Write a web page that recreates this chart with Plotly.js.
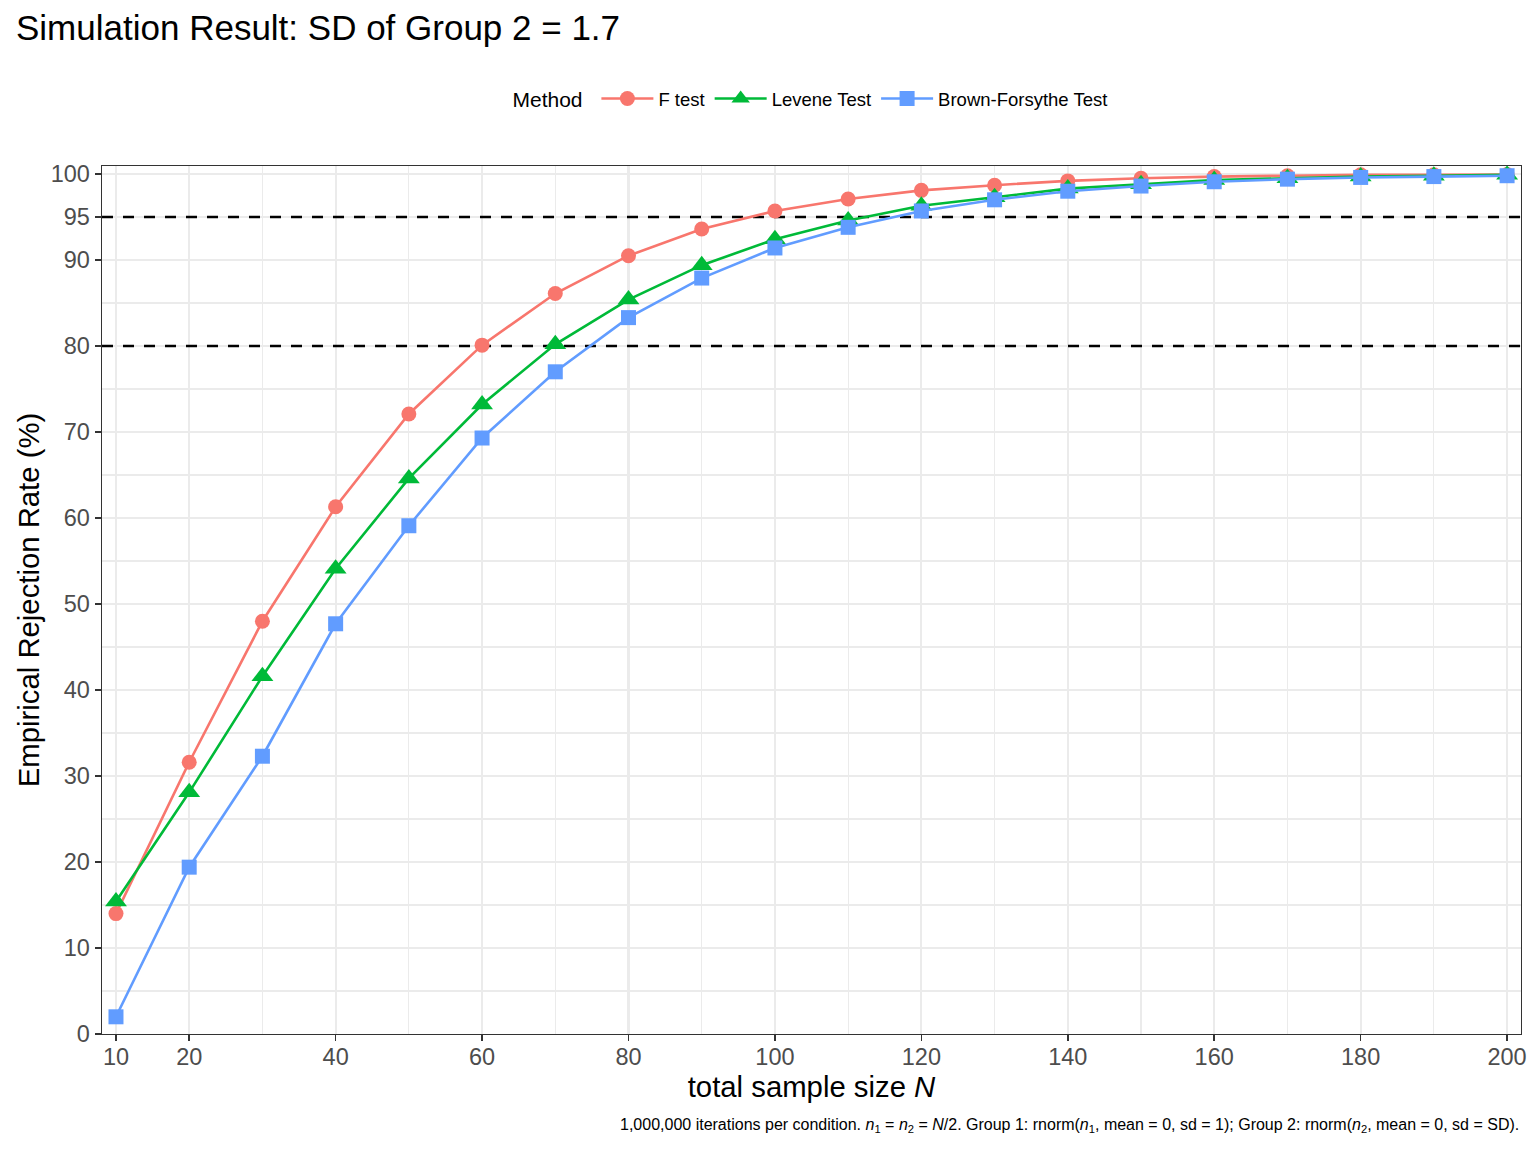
<!DOCTYPE html>
<html>
<head>
<meta charset="utf-8">
<script src="https://cdn.plot.ly/plotly-3.0.1.min.js"></script>
<style>html,body{margin:0;padding:0;background:#fff;}#chart{width:1536px;height:1152px;}</style>
</head>
<body>
<div id="chart"></div>
<script>
const sampleSizes = [10,20,30,40,50,60,70,80,90,100,110,120,130,140,150,160,170,180,190,200];
const fTest = [14.0,31.6,48.0,61.3,72.1,80.1,86.1,90.5,93.6,95.7,97.1,98.1,98.7,99.2,99.5,99.7,99.8,99.9,99.9,99.95];
const leveneTest = [15.4,28.1,41.6,54.1,64.6,73.2,80.2,85.4,89.4,92.4,94.6,96.3,97.3,98.3,98.8,99.3,99.5,99.7,99.8,99.9];
const brownForsytheTest = [2.0,19.4,32.3,47.7,59.1,69.3,77.0,83.3,87.9,91.4,93.8,95.7,97.0,98.0,98.6,99.1,99.4,99.6,99.7,99.8];
const methodNames = ["F test","Levene Test","Brown-Forsythe Test"];
const methodColors = ["#F8766D","#00BA38","#619CFF"];
const xTickVals = [10,20,40,60,80,100,120,140,160,180,200];
const yTickVals = [0,10,20,30,40,50,60,70,80,90,95,100];
const refLines = [80,95];

const FONT = "Liberation Sans, Arial, sans-serif";
const X_RANGE = [8.09, 201.9];
const series = [fTest, leveneTest, brownForsytheTest];
const symbols = ["circle","triangle-up","square"];
const sizes = [15,19,15];

const traces = series.map((vals,i)=>({
  x: sampleSizes, y: vals, type: "scatter", mode: "lines+markers",
  name: methodNames[i],
  line: {color: methodColors[i], width: 2.6},
  marker: {color: methodColors[i], symbol: symbols[i], size: sizes[i]}
}));

const shapes = refLines.map(v=>({
  type: "line", xref: "x", x0: X_RANGE[0], x1: X_RANGE[1], yref: "y", y0: v, y1: v,
  line: {color: "#000000", width: 2.6, dash: "11px,10px"}, layer: "between"
}));

const layout = {
  width: 1536, height: 1152,
  paper_bgcolor: "#fff", plot_bgcolor: "#fff",
  font: {family: FONT, color: "#000"},
  margin: {l: 102, r: 15, t: 166, b: 118},
  title: {text: "Simulation Result: SD of Group 2 = 1.7", x: 16/1536, xref: "container", xanchor: "left",
          y: 1 - 28/1152, yref: "container", yanchor: "middle", font: {size: 35, color: "#000", family: FONT}},
  showlegend: true,
  legend: {orientation: "h", x: 0.5, xanchor: "center", y: (1034-99)/868, yanchor: "middle",
           title: {text: "Method ", font: {size: 21, color: "#000"}, side: "left"},
           font: {size: 18.5, color: "#000"}, itemwidth: 52, tracegroupgap: 0},
  xaxis: {
    range: X_RANGE, tickmode: "array", tickvals: xTickVals, ticktext: xTickVals.map(String),
    ticks: "outside", ticklen: 6, tickwidth: 1.6, tickcolor: "#333333",
    ticklabelstandoff: -5,
    tickfont: {size: 23.5, color: "#4D4D4D"},
    showgrid: true, gridcolor: "#EBEBEB", gridwidth: 2.1,
    minor: {tick0: 0, dtick: 10, showgrid: true, gridcolor: "#EBEBEB", gridwidth: 1.1, ticks: ""},
    showline: true, mirror: true, linecolor: "#333333", linewidth: 1.4,
    zeroline: false,
    title: {text: "total sample size <i>N</i>", font: {size: 29.3, color: "#000"}, standoff: 2}
  },
  yaxis: {
    range: [0, 100.93], tickmode: "array", tickvals: yTickVals, ticktext: yTickVals.map(String),
    ticks: "outside", ticklen: 6, tickwidth: 1.6, tickcolor: "#333333",
    tickfont: {size: 23.5, color: "#4D4D4D"},
    showgrid: true, gridcolor: "#EBEBEB", gridwidth: 2.1,
    minor: {tick0: 0, dtick: 5, showgrid: true, gridcolor: "#EBEBEB", gridwidth: 1.1, ticks: ""},
    showline: true, mirror: true, linecolor: "#333333", linewidth: 1.4,
    zeroline: false,
    title: {text: "Empirical Rejection Rate (%)", font: {size: 29.3, color: "#000"}, standoff: 2}
  },
  shapes: shapes,
  annotations: [{
    text: "1,000,000 iterations per condition. <i>n</i><sub>1</sub> = <i>n</i><sub>2</sub> = <i>N</i>/2. Group 1: rnorm(<i>n</i><sub>1</sub>, mean = 0, sd = 1); Group 2: rnorm(<i>n</i><sub>2</sub>, mean = 0, sd = SD).",
    xref: "paper", x: 1, xanchor: "right", yref: "paper", y: (1034-1125)/868, yanchor: "middle",
    showarrow: false, font: {size: 16, color: "#000"}
  }]
};

Plotly.newPlot("chart", traces, layout, {displayModeBar: false, staticPlot: true});
</script>
</body>
</html>
